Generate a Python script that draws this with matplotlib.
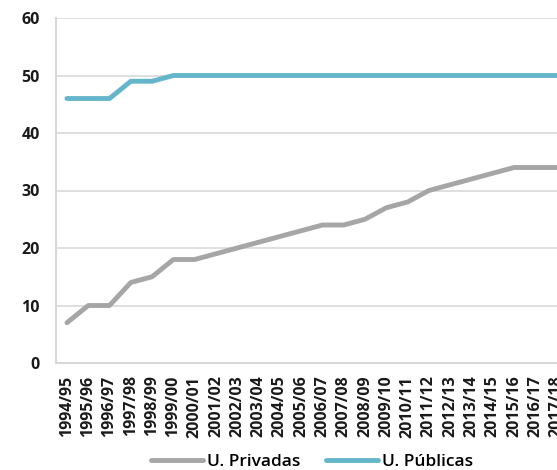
import numpy as np
import matplotlib
matplotlib.use('Agg')
import matplotlib.pyplot as plt

plt.rcParams['font.family'] = ['Open Sans', 'DejaVu Sans']

# data
years = ['1994/95', '1995/96', '1996/97', '1997/98', '1998/99', '1999/00',
         '2000/01', '2001/02', '2002/03', '2003/04', '2004/05', '2005/06',
         '2006/07', '2007/08', '2008/09', '2009/10', '2010/11', '2011/12',
         '2012/13', '2013/14', '2014/15', '2015/16', '2016/17', '2017/18']
privadas = [7, 10, 10, 14, 15, 18, 18, 19, 20, 21, 22, 23,
            24, 24, 25, 27, 28, 30, 31, 32, 33, 34, 34, 34]
publicas = [46, 46, 46, 49, 49, 50, 50, 50, 50, 50, 50, 50,
            50, 50, 50, 50, 50, 50, 50, 50, 50, 50, 50, 50]

col_priv = '#a6a6a6'
col_pub = '#65b6ca'
grid_col = '#d9d9d9'

fig = plt.figure(figsize=(5.57, 4.70), dpi=100)
# axes runs a little past the right edge, as in the original
ax = fig.add_axes([56.3 / 557, 107 / 470, 511 / 557, 345 / 470])

x = np.arange(len(years))
ax.plot(x, privadas, color=col_priv, lw=3.5, label='U. Privadas', solid_capstyle='round')
ax.plot(x, publicas, color=col_pub, lw=3.5, label='U. Públicas', solid_capstyle='round')

ax.set_xlim(-0.5, len(years) - 0.5)
ax.set_ylim(0, 60)
ax.set_yticks(range(0, 61, 10))
ax.set_xticks(x)
ax.set_xticklabels(years, rotation=90, fontsize=11.5, fontweight='bold', color='#1a1a1a')
for t in ax.get_yticklabels():
    t.set_fontsize(11.5)
    t.set_fontweight('bold')
    t.set_color('#1a1a1a')

ax.grid(axis='y', color=grid_col, lw=1.2)
ax.set_axisbelow(True)
for s in ['top', 'right']:
    ax.spines[s].set_visible(False)
for s in ['left', 'bottom']:
    ax.spines[s].set_color(grid_col)
    ax.spines[s].set_linewidth(1.5)
ax.tick_params(axis='both', length=0)
ax.tick_params(axis='y', pad=12)
ax.tick_params(axis='x', pad=9)

fig.legend(loc='center', bbox_to_anchor=(312 / 557, 1 - 462 / 470), ncol=2,
           frameon=False, handlelength=3, handletextpad=0.2,
           columnspacing=1.5, prop={'size': 12.5, 'weight': 'semibold'})

fig.savefig('out.png', dpi=100)
